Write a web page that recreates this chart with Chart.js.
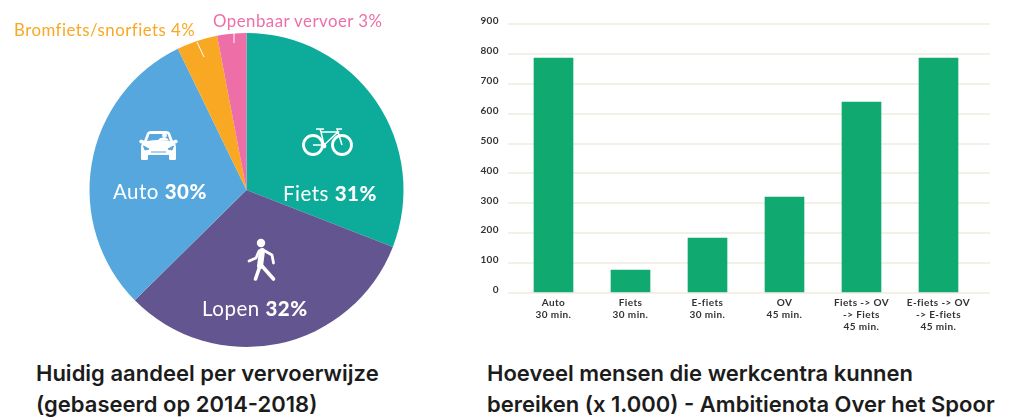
<!DOCTYPE html>
<html>
<head>
<meta charset="utf-8">
<script src="https://cdn.jsdelivr.net/npm/chart.js@4"></script>
<style>
  html, body { margin: 0; padding: 0; background: #fff; width: 1010px; height: 419px; overflow: hidden; }
  canvas { position: absolute; display: block; }
  #pie { left: 0; top: 0; }
  #bars { left: 470px; top: 0; }
  #icons { position: absolute; left: 0; top: 0; }
  .lbl { position: absolute; white-space: nowrap; font-family: Lato, sans-serif; line-height: 1; }
  .in { color: #fff; font-size: 20.5px; letter-spacing: .5px; }
  .in b { font-weight: 900; }
  .out { font-size: 16.8px; letter-spacing: .5px; }
  .title { position: absolute; white-space: nowrap; font: 600 22px/31px Inter, sans-serif; color: #1c1c1c; }
</style>
</head>
<body>
<canvas id="pie" width="460" height="350"></canvas>
<canvas id="bars" width="540" height="350"></canvas>

<svg id="icons" width="460" height="350" fill="none">
  <!-- leader lines -->
  <path d="M197 42 L204 57 M234 33 V43" stroke="#fff" stroke-width="1"/>
  <!-- fiets -->
  <g stroke="#fff">
    <circle cx="313" cy="145" r="9.500" stroke-width="2.800"/>
    <circle cx="342" cy="145" r="9.500" stroke-width="2.800"/>
    <path d="M313 145 H324 L338 132 H321 L324 145 M321 132 L320 129 M316 129 H324 M338 132 L342 145 M338 132 L337 129 H342" stroke-width="1.500"/>
  </g>
  <circle cx="324" cy="146" r="2.400" fill="#fff"/>
  <!-- auto -->
  <path d="M147 133 Q148 131 151 131 H166 Q169 131 170 133 L173 141 Q176 143 176 148 V155 H141 V148 Q141 143 144 141 Z" fill="#fff"/>
  <rect x="141" y="153" width="7" height="7" rx="1.500" fill="#fff"/>
  <rect x="169" y="153" width="7" height="7" rx="1.500" fill="#fff"/>
  <path d="M139 141 L141 139.500 L145 141 L144 144 L140 143 Z M178 141 L176 139.500 L172 141 L173 144 L177 143 Z" fill="#fff"/>
  <path d="M149.500 134 H167.500 L170 141 Q158.500 139 147 141 Z" fill="#55a7de"/>
  <path d="M158 140 Q160 137 164 137.500 Q168 138 169 140.500 Z" fill="#fff"/>
  <circle cx="164.500" cy="135.500" r="2.400" fill="#fff"/>
  <path d="M143.500 146 L149 149 L145 150 Z M173.500 146 L168 149 L172 150 Z M151 152 H166" stroke="#55a7de" fill="#55a7de" stroke-width="1"/>
  <!-- lopen -->
  <circle cx="261" cy="243" r="4.200" fill="#fff"/>
  <path d="M249 261 L256 258 L259 251 H265 L272 255 L273.500 263" stroke="#fff" stroke-width="2.800" stroke-linecap="round" stroke-linejoin="round"/>
  <path d="M262 251 L260 266" stroke="#fff" stroke-width="6" stroke-linecap="round"/>
  <path d="M260 266 L255.500 279 M262 266 L273.500 279" stroke="#fff" stroke-width="3.600" stroke-linecap="round"/>
</svg>

<div id="labels"></div>
<div class="title" style="left:36px;top:358px">Huidig aandeel per vervoerwijze<br>(gebaseerd op 2014-2018)</div>
<div class="title" style="left:487px;top:358px">Hoeveel mensen die werkcentra kunnen<br>bereiken (x 1.000) - Ambitienota Over het Spoor</div>

<script>
var modes = ["Fiets", "Lopen", "Auto", "Bromfiets/snorfiets", "Openbaar vervoer"];
var shares = [30.9, 31.7, 30.2, 4.2, 3.0];
var modeColors = ["#0dac9a", "#63558f", "#55a7de", "#f8a823", "#ee6ea8"];

var routes = [
  ["Auto", "30 min."],
  ["Fiets", "30 min."],
  ["E-fiets", "30 min."],
  ["OV", "45 min."],
  ["Fiets -> OV", "-> Fiets", "45 min."],
  ["E-fiets -> OV", "-> E-fiets", "45 min."]
];
var people = [786, 77, 184, 321, 639, 786];
var peopleTicks = [0, 100, 200, 300, 400, 500, 600, 700, 800, 900];

// pie labels sit over the canvas as plain text
var labelSpots = [
  { cls: "in", left: 283, top: 183 },
  { cls: "in", left: 113, top: 181, idx: 2 },
  { cls: "in", left: 202, top: 298, idx: 1 },
  { cls: "out", left: 14, top: 22, idx: 3, plain: true },
  { cls: "out", left: 213, top: 13, idx: 4, plain: true }
];
var labelBox = document.getElementById("labels");
labelSpots.forEach(function (spot) {
  var i = spot.idx || 0;
  var pct = Math.round(shares[i]) + "%";
  var el = document.createElement("div");
  el.className = "lbl " + spot.cls;
  el.style.left = spot.left + "px";
  el.style.top = spot.top + "px";
  if (spot.plain) {
    el.style.color = modeColors[i];
    el.textContent = modes[i] + " " + pct;
  } else {
    el.innerHTML = modes[i] + " <b>" + pct + "</b>";
  }
  labelBox.appendChild(el);
});

new Chart(document.getElementById("pie"), {
  type: "pie",
  data: {
    labels: modes,
    datasets: [{ data: shares, backgroundColor: modeColors, borderWidth: 0 }]
  },
  options: {
    responsive: false,
    animation: false,
    layout: { padding: { left: 89.5, right: 56.5, top: 33, bottom: 3 } },
    plugins: { legend: { display: false }, tooltip: { enabled: false } }
  }
});

// tick text in the original is spaced out a bit
var spacedText = {
  id: "spacedText",
  beforeDraw: function (chart) { chart.ctx.letterSpacing = "0.4px"; }
};

new Chart(document.getElementById("bars"), {
  type: "bar",
  plugins: [spacedText],
  data: {
    datasets: [{
      // linear x so the grid can run past the outer bars like in the original
      data: people.map(function (v, i) { return { x: i, y: v }; }),
      backgroundColor: "#10a96f",
      barThickness: 39
    }]
  },
  options: {
    responsive: false,
    animation: false,
    layout: { padding: { top: 24, right: 20, left: 0, bottom: 0 } },
    plugins: { legend: { display: false }, tooltip: { enabled: false } },
    scales: {
      x: {
        type: "linear",
        offset: false,
        min: -0.591,
        max: 5.669,
        afterBuildTicks: function (scale) {
          scale.ticks = routes.map(function (r, i) { return { value: i }; });
        },
        afterFit: function (scale) { scale.height = 57; },
        grid: { display: false, drawTicks: false },
        border: { display: false },
        ticks: {
          autoSkip: false,
          maxRotation: 0,
          padding: 4,
          color: "#333",
          font: { family: "Lato", size: 10, weight: "700", lineHeight: 1.2 },
          callback: function (value) { return routes[value]; }
        }
      },
      y: {
        min: 0,
        max: 900,
        afterBuildTicks: function (scale) {
          scale.ticks = peopleTicks.map(function (v) { return { value: v }; });
        },
        afterFit: function (scale) { scale.width = 38; },
        grid: { color: "#f3f0e7", lineWidth: 2, drawTicks: false },
        border: { display: false },
        ticks: {
          padding: 9,
          color: "#333",
          font: { family: "Lato", size: 10, weight: "700", lineHeight: 0.6 },
          // empty second line lifts the number a little above its grid line
          callback: function (value) { return [String(value), ""]; }
        }
      }
    }
  }
});
</script>
</body>
</html>
